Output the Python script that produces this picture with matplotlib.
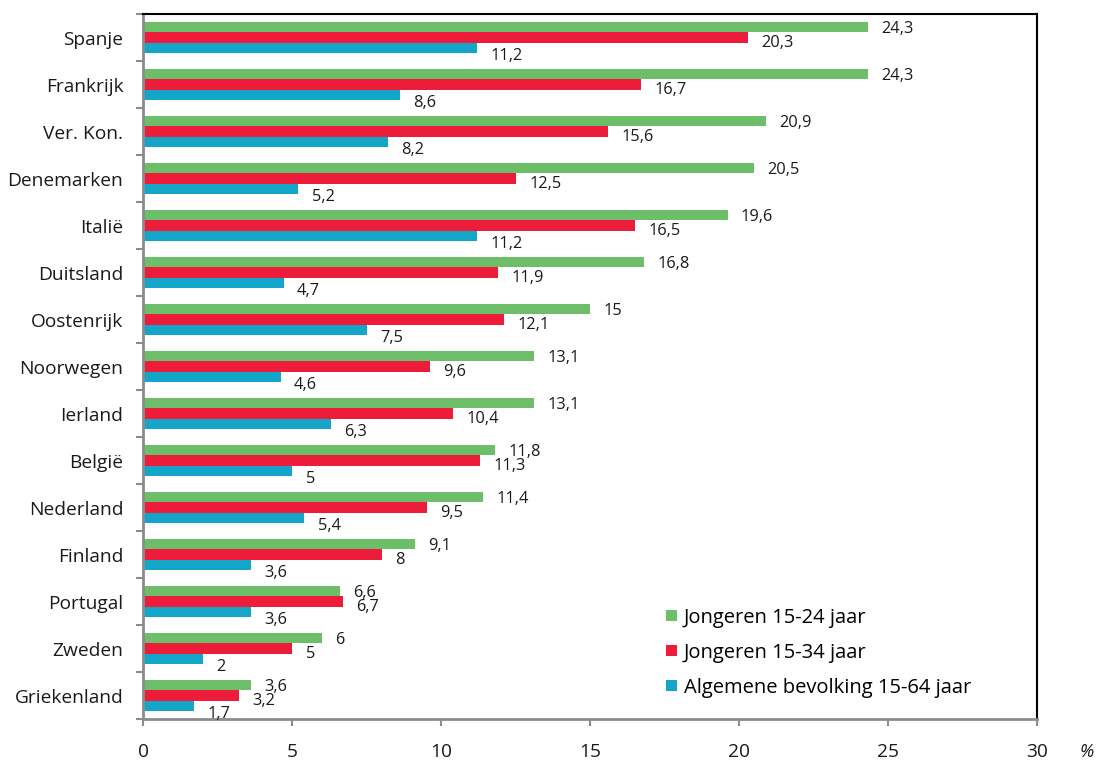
import matplotlib
matplotlib.use("Agg")
import matplotlib.pyplot as plt
import numpy as np

plt.rcParams['font.family'] = ['Open Sans', 'DejaVu Sans']

countries = ["Spanje", "Frankrijk", "Ver. Kon.", "Denemarken", "Italië", "Duitsland",
             "Oostenrijk", "Noorwegen", "Ierland", "België", "Nederland", "Finland",
             "Portugal", "Zweden", "Griekenland"]
jong_15_24 = [24.3, 24.3, 20.9, 20.5, 19.6, 16.8, 15, 13.1, 13.1, 11.8, 11.4, 9.1, 6.6, 6, 3.6]
jong_15_34 = [20.3, 16.7, 15.6, 12.5, 16.5, 11.9, 12.1, 9.6, 10.4, 11.3, 9.5, 8, 6.7, 5, 3.2]
alg_15_64 = [11.2, 8.6, 8.2, 5.2, 11.2, 4.7, 7.5, 4.6, 6.3, 5, 5.4, 3.6, 3.6, 2, 1.7]
series_names = ["Jongeren 15-24 jaar", "Jongeren 15-34 jaar", "Algemene bevolking 15-64 jaar"]
colors = ["#6cbf68", "#ee1c3b", "#13a6c8"]

fig = plt.figure(figsize=(10.97, 7.62), dpi=100)
ax = fig.add_axes([0.1308, 0.0564, 0.9457 - 0.1308, 0.9816 - 0.0564])

y = np.arange(len(countries))
h = 0.223
offsets = [-h, 0, h]
label_dy = [-2, -5, -8]  # pixels downward
series = [jong_15_24, jong_15_34, alg_15_64]

def fmt(v):
    if float(v).is_integer():
        return str(int(v))
    return f"{v:.1f}".replace(".", ",")

for s, vals, off, col, dy in zip(series_names, series, offsets, colors, label_dy):
    ax.barh(y + off, vals, height=h, color=col, label=s, edgecolor='none')
    for yi, v in zip(y, vals):
        ax.annotate(fmt(v), (v, yi + off), xytext=(9.5, dy * 0.72), textcoords='offset points',
                    ha='left', va='center', fontsize=11.8, color='#1a1a1a')

ax.set_ylim(len(countries) - 0.5, -0.5)
ax.set_xlim(0, 30)
ax.set_xticks(np.arange(0, 31, 5))
ax.set_yticks(np.arange(-0.5, len(countries), 1))
ax.set_yticklabels([])
ax.set_yticks(y, minor=True)
ax.set_yticklabels(countries, minor=True, fontsize=13.8, color='#1a1a1a')
ax.tick_params(axis='y', which='major', length=5, width=1.5, color='#8c8c8c')
ax.tick_params(axis='y', which='minor', length=0, pad=14.5)
ax.tick_params(axis='x', length=5, width=1.5, color='#8c8c8c', labelsize=13.8,
               labelcolor='#1a1a1a', pad=12)

for side in ['left', 'bottom']:
    ax.spines[side].set_color('#8c8c8c')
    ax.spines[side].set_linewidth(2)
for side in ['top', 'right']:
    ax.spines[side].set_color('black')
    ax.spines[side].set_linewidth(1.5)

leg = ax.legend(loc='upper left', bbox_to_anchor=(0.585, 0.158), frameon=False,
                fontsize=14.5, handlelength=0.5, handleheight=0.5, handletextpad=0.35,
                labelspacing=0.75, borderpad=0, borderaxespad=0)

fig.text(1087 / 1097, 1 - 752 / 762, "%", ha='center', va='center', fontsize=13,
         style='italic', color='#1a1a1a')

fig.savefig("out.png", dpi=100)
